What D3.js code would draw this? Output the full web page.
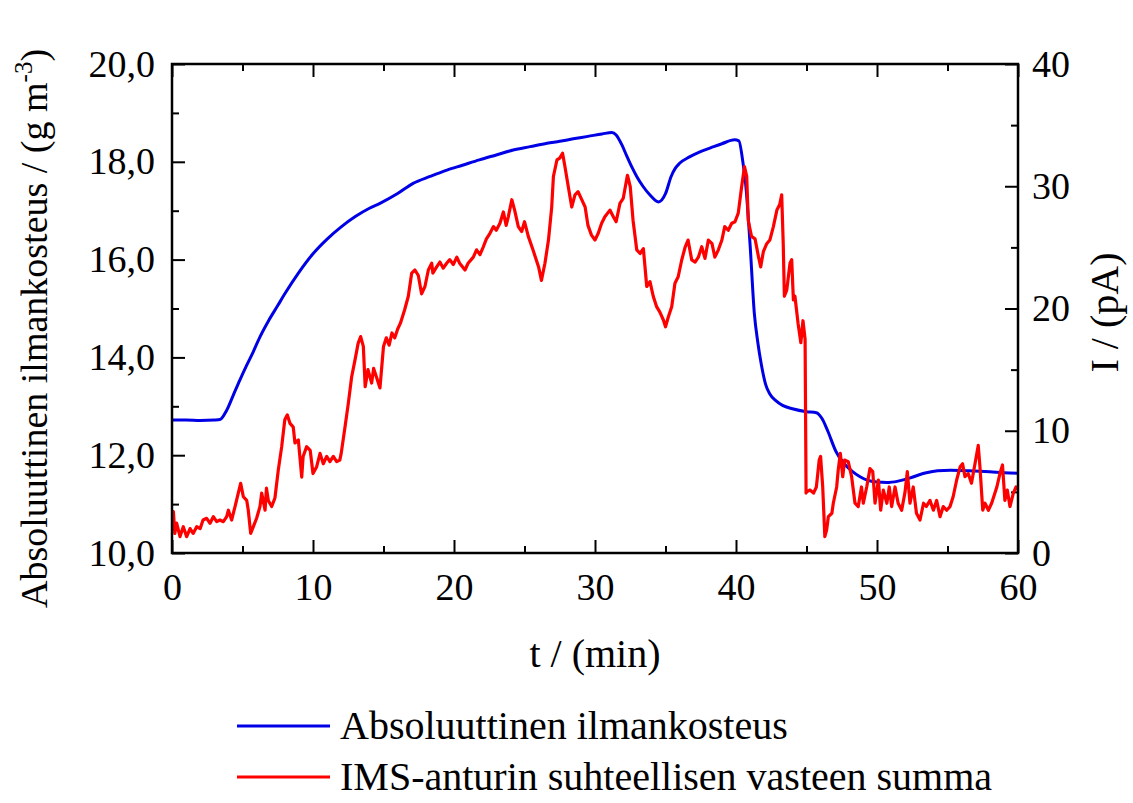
<!DOCTYPE html>
<html>
<head>
<meta charset="utf-8">
<script src="https://cdn.jsdelivr.net/npm/d3@7"></script>
<style>
  html, body { margin: 0; padding: 0; background: #fff; }
  svg { display: block; }
</style>
</head>
<body>
<svg id="chart" width="1133" height="803"></svg>
<script>
// ---- Data ----
const xTicks = [0, 10, 20, 30, 40, 50, 60];
const yLeftTicks = [10, 12, 14, 16, 18, 20];
const yRightTicks = [0, 10, 20, 30, 40];

const seriesNames = ["Absoluuttinen ilmankosteus", "IMS-anturin suhteellisen vasteen summa"];

// Blue: absolute humidity (g m^-3), left axis
const blueT = [0, 1, 2, 3, 3.4, 3.88, 4.35, 4.82, 5.3, 5.77, 6.24, 6.83, 7.5, 8, 9, 10, 11, 12, 13, 14, 14.75, 16, 17.1, 18.3, 19.5, 20.6, 21.8, 23, 24.2, 25.4, 26.6, 27.5, 28.46, 29.5, 30.5, 31.2, 31.5, 31.9, 32.25, 32.6, 32.96, 33.4, 33.9, 34.5, 35.0, 35.4, 35.7, 36.0, 36.7, 37.4, 38.15, 39.0, 39.9, 40.2, 40.5, 40.7, 41.0, 41.3, 41.55, 41.8, 42.1, 42.4, 42.8, 43.3, 44.0, 45.0, 45.7, 46.1, 46.5, 47.1, 47.6, 48.2, 48.8, 49.3, 50.0, 50.7, 51.5, 52.3, 53.0, 53.5, 54.3, 55.2, 56.5, 58.0, 59.0, 60];
const blueV = [12.72, 12.72, 12.71, 12.72, 12.73, 12.92, 13.23, 13.54, 13.84, 14.12, 14.42, 14.74, 15.06, 15.3, 15.74, 16.12, 16.42, 16.67, 16.88, 17.05, 17.15, 17.35, 17.56, 17.7, 17.83, 17.93, 18.04, 18.14, 18.24, 18.31, 18.38, 18.42, 18.47, 18.52, 18.57, 18.6, 18.55, 18.35, 18.12, 17.9, 17.7, 17.5, 17.32, 17.18, 17.35, 17.7, 17.87, 17.97, 18.1, 18.2, 18.28, 18.37, 18.45, 18.43, 17.97, 17.5, 16.3, 14.9, 14.3, 13.85, 13.45, 13.25, 13.12, 13.02, 12.95, 12.89, 12.87, 12.75, 12.5, 12.07, 11.85, 11.68, 11.56, 11.49, 11.45, 11.44, 11.47, 11.53, 11.6, 11.64, 11.68, 11.69, 11.68, 11.66, 11.64, 11.63];

// Red: IMS sensor relative response sum (pA), right axis
const redT = [0.0, 0.1, 0.2, 0.33, 0.57, 0.8, 1.04, 1.28, 1.5, 1.75, 2.0, 2.2, 2.46, 2.7, 2.93, 3.17, 3.4, 3.64, 3.88, 4.0, 4.23, 4.47, 4.7, 4.87, 5.06, 5.3, 5.41, 5.58, 5.77, 6.0, 6.24, 6.36, 6.6, 6.7, 6.83, 7.07, 7.3, 7.54, 7.78, 8.0, 8.18, 8.37, 8.6, 8.72, 8.96, 9.2, 9.3, 9.55, 9.8, 10.0, 10.26, 10.5, 10.73, 10.97, 11.2, 11.44, 11.68, 11.9, 12.0, 12.27, 12.5, 12.74, 12.98, 13.2, 13.38, 13.57, 13.7, 13.9, 14.16, 14.3, 14.5, 14.75, 15.0, 15.2, 15.4, 15.6, 15.8, 16.0, 16.2, 16.5, 16.76, 17.0, 17.23, 17.47, 17.7, 17.94, 18.18, 18.42, 18.5, 18.77, 19.0, 19.24, 19.48, 19.7, 19.95, 20.2, 20.4, 20.78, 21.0, 21.37, 21.6, 21.84, 22.08, 22.3, 22.55, 22.8, 23.0, 23.26, 23.5, 23.7, 23.85, 24.1, 24.3, 24.56, 24.8, 25.0, 25.27, 25.6, 26.0, 26.2, 26.45, 26.7, 26.93, 27.05, 27.3, 27.5, 27.7, 27.87, 28.1, 28.35, 28.58, 28.8, 29.06, 29.3, 29.5, 29.75, 30.0, 30.23, 30.47, 30.7, 31.06, 31.3, 31.5, 31.77, 32.0, 32.3, 32.5, 32.7, 32.96, 33.2, 33.43, 33.67, 33.9, 34.13, 34.37, 34.6, 34.85, 35.0, 35.2, 35.44, 35.67, 35.9, 36.15, 36.4, 36.6, 36.86, 37.1, 37.33, 37.57, 37.8, 38.04, 38.3, 38.5, 38.75, 39.0, 39.2, 39.45, 39.7, 39.93, 40.16, 40.4, 40.6, 40.76, 40.87, 41.1, 41.35, 41.6, 41.75, 41.94, 42.18, 42.4, 42.65, 42.9, 43.1, 43.24, 43.35, 43.43, 43.6, 43.83, 43.95, 44.07, 44.18, 44.4, 44.6, 44.75, 44.9, 44.97, 45.0, 45.25, 45.5, 45.7, 45.9, 46.0, 46.15, 46.3, 46.43, 46.55, 46.8, 46.9, 47.14, 47.25, 47.4, 47.57, 47.7, 47.96, 48.2, 48.44, 48.67, 48.9, 49.03, 49.27, 49.5, 49.7, 49.86, 50.1, 50.26, 50.45, 50.7, 50.87, 51.04, 51.28, 51.5, 51.75, 51.99, 52.15, 52.34, 52.57, 52.8, 53.05, 53.3, 53.5, 53.76, 54.0, 54.23, 54.47, 54.7, 54.94, 55.18, 55.4, 55.65, 55.9, 56.07, 56.24, 56.47, 56.7, 56.95, 57.18, 57.3, 57.5, 57.66, 57.9, 58.13, 58.5, 58.72, 58.9, 59.07, 59.24, 59.43, 59.67, 59.86, 60.0];
const redV = [2.4, 3.38, 1.6, 2.45, 1.34, 2.15, 1.34, 2.0, 1.6, 2.15, 2.0, 2.7, 2.84, 2.43, 2.97, 2.56, 2.7, 2.56, 2.97, 3.5, 2.7, 3.8, 4.9, 5.7, 4.6, 4.3, 3.5, 1.6, 2.15, 2.84, 3.8, 4.9, 3.5, 5.3, 4.3, 3.8, 4.5, 6.8, 8.7, 10.9, 11.3, 10.6, 10.3, 9.0, 9.25, 6.2, 7.9, 8.7, 8.4, 6.5, 7.06, 8.15, 7.3, 7.9, 7.47, 7.9, 7.47, 7.6, 8.15, 10.3, 12.2, 14.4, 15.8, 17.15, 17.7, 16.9, 13.6, 15.0, 13.9, 15.1, 14.4, 13.5, 16.9, 17.6, 17.0, 18.0, 17.6, 18.3, 18.8, 19.9, 21.0, 22.9, 23.15, 22.7, 21.2, 21.8, 23.15, 23.7, 22.9, 23.4, 23.8, 23.3, 23.7, 24.0, 23.6, 24.2, 23.7, 23.15, 23.7, 24.2, 24.8, 24.4, 25.05, 25.7, 26.15, 26.7, 26.4, 26.97, 27.9, 26.8, 27.5, 28.9, 28.05, 26.7, 26.3, 27.1, 25.9, 24.8, 23.4, 22.3, 23.7, 25.6, 28.3, 30.8, 32.15, 32.3, 32.7, 31.6, 30.0, 28.3, 29.3, 29.55, 28.9, 28.3, 26.8, 26.0, 25.6, 26.15, 26.97, 27.5, 28.05, 27.5, 27.1, 28.6, 29.0, 30.9, 29.96, 27.2, 24.8, 24.5, 24.9, 21.8, 22.2, 21.0, 20.15, 19.7, 19.06, 18.5, 19.3, 20.15, 22.06, 22.6, 23.97, 25.05, 25.6, 23.97, 23.8, 24.2, 25.05, 24.1, 25.6, 25.3, 24.2, 24.8, 25.6, 26.7, 26.4, 26.97, 27.1, 27.8, 29.96, 31.6, 30.8, 27.2, 25.9, 25.7, 24.2, 23.4, 24.65, 25.3, 25.6, 26.7, 28.05, 28.5, 29.3, 25.3, 21.0, 21.5, 23.7, 24.0, 20.7, 21.0, 18.8, 17.2, 19.0, 17.5, 4.9, 5.0, 5.15, 4.9, 5.4, 7.6, 7.9, 5.4, 1.34, 1.9, 2.97, 3.25, 4.07, 5.4, 6.8, 8.15, 6.24, 7.6, 7.47, 6.24, 4.07, 3.8, 5.4, 4.07, 5.4, 6.9, 6.65, 4.07, 5.97, 3.5, 5.15, 4.07, 5.4, 3.8, 5.4, 4.07, 3.5, 5.0, 6.65, 4.07, 5.4, 3.25, 2.7, 4.07, 3.8, 4.3, 3.5, 4.3, 2.97, 3.8, 3.5, 3.8, 4.6, 5.97, 7.06, 7.3, 6.24, 6.5, 5.7, 7.3, 8.8, 7.06, 3.5, 4.07, 3.5, 4.07, 5.4, 6.5, 7.2, 4.3, 5.15, 3.8, 4.9, 5.4, 5.2];

// ---- Layout ----
const FONT = '"Liberation Serif", "Times New Roman", Times, serif';
const svg = d3.select("#chart");
const L = 172, T = 64, R = 1018, B = 553;

const x = d3.scaleLinear().domain([0, 60]).range([L, R]);
const yL = d3.scaleLinear().domain([10, 20]).range([B, T]);
const yR = d3.scaleLinear().domain([0, 40]).range([B, T]);

const fmtL = d => d3.format(".1f")(d).replace(".", ",");
const tickFont = 38;

// Axes (ticks inward)
const bottomAxis = d3.axisBottom(x).tickValues(xTicks).tickSizeInner(-13).tickSizeOuter(0).tickPadding(20).tickFormat(d3.format("d"));
const bottomMinor = d3.axisBottom(x).tickValues(d3.range(5, 60, 10)).tickSizeInner(-7).tickSizeOuter(0).tickFormat("");
const topAxis = d3.axisTop(x).tickValues(xTicks).tickSizeInner(-13).tickSizeOuter(0).tickFormat("");
const topMinor = d3.axisTop(x).tickValues(d3.range(5, 60, 10)).tickSizeInner(-7).tickSizeOuter(0).tickFormat("");
const leftAxis = d3.axisLeft(yL).tickValues(yLeftTicks).tickSizeInner(-13).tickSizeOuter(0).tickPadding(17).tickFormat(fmtL);
const leftMinor = d3.axisLeft(yL).tickValues(d3.range(11, 20, 2)).tickSizeInner(-7).tickSizeOuter(0).tickFormat("");
const rightAxis = d3.axisRight(yR).tickValues(yRightTicks).tickSizeInner(-13).tickSizeOuter(0).tickPadding(14).tickFormat(d3.format("d"));
const rightMinor = d3.axisRight(yR).tickValues(d3.range(5, 40, 10)).tickSizeInner(-7).tickSizeOuter(0).tickFormat("");

function styleAxis(g) {
  g.attr("font-family", null).attr("font-size", null);
  g.select(".domain").remove();
  g.selectAll(".tick line").attr("stroke", "#000").attr("stroke-width", 2);
  g.selectAll(".tick text").attr("fill", "#000").style("font-size", tickFont + "px");
}

svg.append("g").attr("transform", `translate(0,${B})`).call(bottomAxis).call(styleAxis);
svg.append("g").attr("transform", `translate(0,${B})`).call(bottomMinor).call(styleAxis);
svg.append("g").attr("transform", `translate(0,${T})`).call(topAxis).call(styleAxis);
svg.append("g").attr("transform", `translate(0,${T})`).call(topMinor).call(styleAxis);
svg.append("g").attr("transform", `translate(${L},0)`).call(leftAxis).call(styleAxis);
svg.append("g").attr("transform", `translate(${L},0)`).call(leftMinor).call(styleAxis);
svg.append("g").attr("transform", `translate(${R},0)`).call(rightAxis).call(styleAxis);
svg.append("g").attr("transform", `translate(${R},0)`).call(rightMinor).call(styleAxis);

// Lines
svg.append("clipPath").attr("id", "plotclip").append("rect")
  .attr("x", L).attr("y", T).attr("width", R - L).attr("height", B - T);

const blueData = blueT.map((t, i) => [t, blueV[i]]);
const redData = redT.map((t, i) => [t, redV[i]]);

const blueLine = d3.line().x(d => x(d[0])).y(d => yL(d[1])).curve(d3.curveMonotoneX);
const redLine = d3.line().x(d => x(d[0])).y(d => yR(d[1]));

const plot = svg.append("g").attr("clip-path", "url(#plotclip)");
plot.append("path").datum(blueData).attr("d", blueLine)
  .attr("fill", "none").attr("stroke", "#0000e6").attr("stroke-width", 3);
plot.append("path").datum(redData).attr("d", redLine)
  .attr("fill", "none").attr("stroke", "#ff0000").attr("stroke-width", 3.2).attr("stroke-linejoin", "round");

// Frame
svg.append("rect").attr("x", L).attr("y", T).attr("width", R - L).attr("height", B - T)
  .attr("fill", "none").attr("stroke", "#000").attr("stroke-width", 2.5);

// Axis titles
svg.append("text").attr("x", (L + R) / 2).attr("y", 667).attr("text-anchor", "middle")
  .style("font-size", "40px").text("t / (min)");

const lt = svg.append("text").attr("transform", `translate(47,${(T + B) / 2 + 20}) rotate(-90)`)
  .attr("text-anchor", "middle").style("font-size", "38px");
lt.append("tspan").text("Absoluuttinen ilmankosteus / (g m");
lt.append("tspan").style("font-size", "25px").attr("dy", -15).text("-3");
lt.append("tspan").attr("dy", 15).text(")");

svg.append("text").attr("transform", `translate(1118,${(T + B) / 2 + 4}) rotate(-90)`)
  .attr("text-anchor", "middle").style("font-size", "40px").text("I / (pA)");

// Legend
const legendColors = ["#0000e6", "#ff0000"];
const legendY = [726, 777];
seriesNames.forEach((name, i) => {
  svg.append("line").attr("x1", 237).attr("x2", 330).attr("y1", legendY[i]).attr("y2", legendY[i])
    .attr("stroke", legendColors[i]).attr("stroke-width", 3);
  svg.append("text").attr("x", 340).attr("y", legendY[i] + 13).style("font-size", "40px").text(name);
});

// Force serif font on every text node
svg.selectAll("text").style("font-family", FONT).style("fill", "#000");
</script>
</body>
</html>
